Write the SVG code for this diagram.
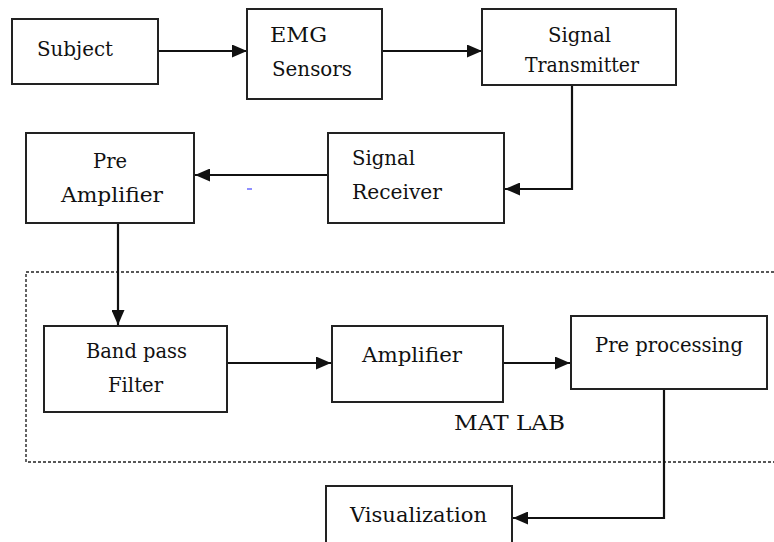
<svg xmlns="http://www.w3.org/2000/svg" width="774" height="542" viewBox="0 0 774 542">
  <style>
    .box { fill: #fff; stroke: #222; stroke-width: 2; }
    .lbl { font-family: "DejaVu Serif", "Liberation Serif", serif; font-size: 19.5px; fill: #111; }
    .wire { fill: none; stroke: #111; stroke-width: 2.2; }
    .frame { fill: none; stroke: #222; stroke-width: 1.4; stroke-dasharray: 3 2; }
  </style>
  <defs>
    <marker id="arrow" viewBox="0 0 15 13" refX="15" refY="6.5" markerWidth="15" markerHeight="13" markerUnits="userSpaceOnUse" orient="auto">
      <path d="M0,0 L15,6.5 L0,13 Z" fill="#111"/>
    </marker>
  </defs>
  <rect width="774" height="542" fill="#fff"/>

  <!-- MATLAB processing region -->
  <path class="frame" d="M774,272 H26 V462 H774"/>
  <text class="lbl" x="454" y="430" textLength="111" lengthAdjust="spacingAndGlyphs">MAT LAB</text>

  <g id="connectors">
    <line class="wire" x1="158" y1="51" x2="247" y2="51" marker-end="url(#arrow)"/>
    <line class="wire" x1="382" y1="51" x2="482" y2="51" marker-end="url(#arrow)"/>
    <polyline class="wire" points="572,85 572,189 505,189" marker-end="url(#arrow)"/>
    <line class="wire" x1="328" y1="175" x2="195" y2="175" marker-end="url(#arrow)"/>
    <line class="wire" x1="118" y1="223" x2="118" y2="325" marker-end="url(#arrow)"/>
    <line class="wire" x1="227" y1="363" x2="331" y2="363" marker-end="url(#arrow)"/>
    <line class="wire" x1="503" y1="363" x2="570" y2="363" marker-end="url(#arrow)"/>
    <polyline class="wire" points="664,389 664,518 513,518" marker-end="url(#arrow)"/>
    <line x1="247" y1="189" x2="252" y2="189" stroke="#6a6aff" stroke-width="1.5"/>
  </g>

  <g id="subject">
    <rect class="box" x="12" y="19" width="146" height="65"/>
    <text class="lbl" x="37" y="56" textLength="76" lengthAdjust="spacingAndGlyphs">Subject</text>
  </g>
  <g id="emg-sensors">
    <rect class="box" x="247" y="9" width="135" height="90"/>
    <text class="lbl" x="270" y="42" textLength="57" lengthAdjust="spacingAndGlyphs">EMG</text>
    <text class="lbl" x="272" y="76" textLength="80" lengthAdjust="spacingAndGlyphs">Sensors</text>
  </g>
  <g id="signal-transmitter">
    <rect class="box" x="482" y="9" width="194" height="76"/>
    <text class="lbl" x="548" y="42" textLength="63" lengthAdjust="spacingAndGlyphs">Signal</text>
    <text class="lbl" x="525" y="72" textLength="114" lengthAdjust="spacingAndGlyphs">Transmitter</text>
  </g>
  <g id="signal-receiver">
    <rect class="box" x="328" y="133" width="176" height="90"/>
    <text class="lbl" x="352" y="165" textLength="63" lengthAdjust="spacingAndGlyphs">Signal</text>
    <text class="lbl" x="352" y="199" textLength="90" lengthAdjust="spacingAndGlyphs">Receiver</text>
  </g>
  <g id="pre-amplifier">
    <rect class="box" x="26" y="133" width="168" height="90"/>
    <text class="lbl" x="93" y="168" textLength="34" lengthAdjust="spacingAndGlyphs">Pre</text>
    <text class="lbl" x="61" y="202" textLength="102" lengthAdjust="spacingAndGlyphs">Amplifier</text>
  </g>
  <g id="band-pass-filter">
    <rect class="box" x="44" y="326" width="183" height="86"/>
    <text class="lbl" x="86" y="358" textLength="101" lengthAdjust="spacingAndGlyphs">Band pass</text>
    <text class="lbl" x="108" y="392" textLength="55" lengthAdjust="spacingAndGlyphs">Filter</text>
  </g>
  <g id="amplifier">
    <rect class="box" x="332" y="326" width="171" height="76"/>
    <text class="lbl" x="362" y="362" textLength="100" lengthAdjust="spacingAndGlyphs">Amplifier</text>
  </g>
  <g id="pre-processing">
    <rect class="box" x="571" y="316" width="196" height="73"/>
    <text class="lbl" x="595" y="352" textLength="148" lengthAdjust="spacingAndGlyphs">Pre processing</text>
  </g>
  <g id="visualization">
    <rect class="box" x="326" y="486" width="186" height="70"/>
    <text class="lbl" x="350" y="522" textLength="137" lengthAdjust="spacingAndGlyphs">Visualization</text>
  </g>
</svg>
